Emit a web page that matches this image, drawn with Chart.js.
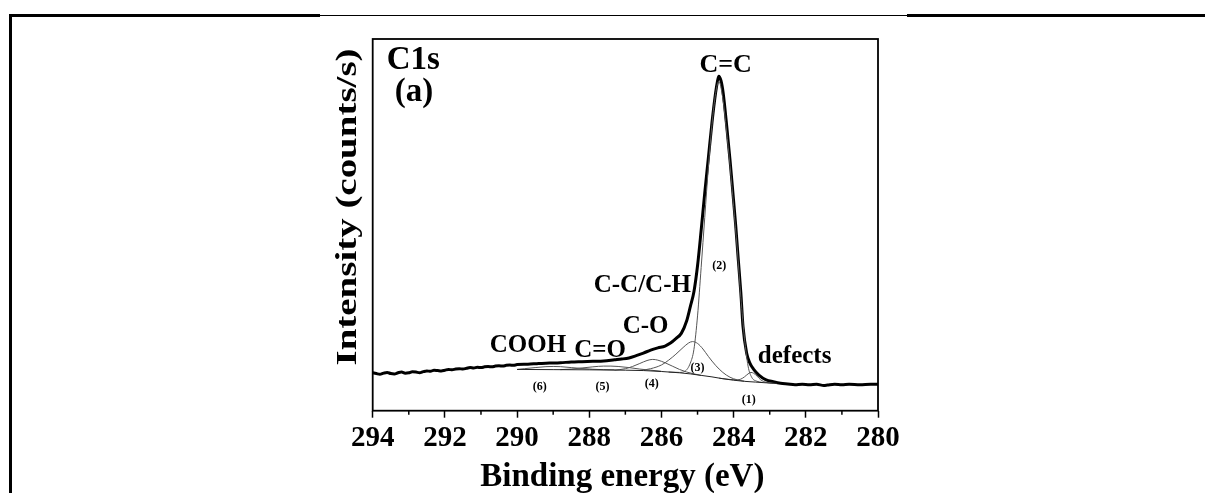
<!DOCTYPE html>
<html>
<head>
<meta charset="utf-8">
<script src="https://cdn.jsdelivr.net/npm/chart.js@4.4.1/dist/chart.umd.min.js"></script>
<style>
  html, body { margin: 0; padding: 0; background: #fff; }
  #wrap { position: relative; width: 1205px; height: 493px; overflow: hidden; }
  canvas { position: absolute; left: 0; top: 0; }
  .rule { position: absolute; background: #000; }
</style>
</head>
<body>
<div id="wrap">
  <canvas id="xps" width="1205" height="493"></canvas>
  <div class="rule" style="left:9px;top:14px;width:311px;height:3px"></div>
  <div class="rule" style="left:320px;top:15px;width:587px;height:1px"></div>
  <div class="rule" style="left:907px;top:14px;width:298px;height:3px"></div>
  <div class="rule" style="left:9px;top:14px;width:3px;height:479px"></div>
</div>
<script>
// C1s spectrum (measured envelope), binding energy in eV, intensity in arbitrary counts/s
const envEnergy = [294.0, 293.9, 293.8, 293.7, 293.6, 293.5, 293.4, 293.3, 293.2, 293.1,
  293.0, 292.9, 292.8, 292.7, 292.6, 292.5, 292.4, 292.3, 292.2, 292.1,
  292.0, 291.9, 291.8, 291.7, 291.6, 291.5, 291.4, 291.3, 291.2, 291.1,
  291.0, 290.9, 290.8, 290.7, 290.6, 290.5, 290.4, 290.3, 290.2, 290.1,
  290.0, 289.7, 289.4, 289.1, 288.8, 288.5, 288.2, 287.9, 287.6, 287.3,
  287.1, 286.9, 286.7, 286.5, 286.3, 286.1, 285.9, 285.75, 285.6, 285.45,
  285.3, 285.2, 285.1, 285.0, 284.9, 284.8, 284.7, 284.6, 284.5, 284.45,
  284.41, 284.35, 284.29, 284.19, 284.1, 284.02, 283.94, 283.87, 283.8, 283.74,
  283.64, 283.55, 283.45, 283.3, 283.1, 282.9, 282.7, 282.5, 282.3, 282.1,
  281.9, 281.7, 281.5, 281.4, 281.2, 281.0, 280.8, 280.5, 280.2, 280.0];
const envCounts = [10.2, 10.0, 9.8, 10.1, 10.3, 10.0, 9.9, 10.2, 10.4, 10.1,
  10.2, 10.5, 10.4, 10.2, 10.5, 10.7, 10.6, 10.9, 10.8, 10.7,
  10.9, 11.1, 11.0, 11.2, 11.3, 11.2, 11.4, 11.6, 11.5, 11.7,
  11.6, 11.8, 11.9, 11.8, 12.0, 12.1, 12.0, 12.2, 12.3, 12.2,
  12.4, 12.5, 12.7, 12.8, 12.9, 13.1, 13.2, 13.3, 13.4, 13.7,
  13.9, 14.2, 14.8, 15.5, 16.3, 16.9, 17.4, 18.2, 19.4, 20.8,
  24.2, 28.0, 32.0, 39.0, 48.5, 58.6, 68.0, 77.5, 85.5, 88.5,
  90.0, 88.8, 85.5, 76.4, 67.4, 58.6, 49.5, 40.5, 31.7, 22.6,
  15.5, 12.8, 11.2, 9.6, 8.3, 7.8, 7.4, 7.2, 7.0, 7.1,
  7.0, 7.1, 6.8, 6.9, 7.1, 7.0, 7.1, 7.0, 7.1, 7.1];

// background
const bgEnergy = [290.0, 289.0, 288.0, 287.0, 286.5, 286.0, 285.5, 285.2, 284.9, 284.6, 284.3, 284.0, 283.7, 283.4, 283.1, 282.8];
const bgCounts = [11.1, 11.05, 11.0, 10.9, 10.8, 10.55, 10.2, 9.9, 9.5, 9.1, 8.6, 8.2, 7.9, 7.7, 7.5, 7.35];

// fitted components (1)..(6)
const p1Energy = [284.4, 284.1, 283.9, 283.8, 283.7, 283.6, 283.52, 283.45, 283.35, 283.25, 283.1, 282.9];
const p1Counts = [8.75, 8.4, 8.3, 8.5, 9.1, 9.9, 10.3, 10.1, 9.3, 8.3, 7.6, 7.4];
const p2Energy = [285.8, 285.5, 285.35, 285.2, 285.1, 285.0, 284.9, 284.8, 284.7, 284.6, 284.5, 284.41,
  284.3, 284.2, 284.1, 284.0, 283.9, 283.8, 283.7, 283.6, 283.5, 283.35, 283.2];
const p2Counts = [10.4, 10.3, 10.6, 12.8, 16.5, 25.5, 38.5, 52.0, 65.5, 77.0, 85.3, 88.6,
  84.0, 75.5, 66.0, 55.0, 43.5, 30.5, 19.5, 12.0, 9.0, 7.9, 7.6];
const p3Energy = [286.6, 286.3, 286.0, 285.8, 285.6, 285.4, 285.25, 285.14, 285.0, 284.85, 284.7, 284.5, 284.3, 284.1, 283.9, 283.7];
const p3Counts = [10.8, 11.3, 12.3, 13.6, 15.2, 17.0, 18.2, 18.6, 18.1, 16.6, 14.6, 12.2, 10.3, 9.0, 8.3, 7.95];
const p4Energy = [287.3, 287.0, 286.8, 286.6, 286.4, 286.24, 286.1, 285.9, 285.7, 285.5, 285.3, 285.1, 284.9];
const p4Counts = [10.9, 11.3, 11.9, 12.7, 13.5, 13.8, 13.6, 12.9, 12.0, 11.1, 10.4, 9.9, 9.5];
const p5Energy = [288.8, 288.5, 288.2, 287.9, 287.6, 287.4, 287.2, 286.9, 286.6, 286.3, 286.0];
const p5Counts = [11.05, 11.2, 11.5, 11.8, 12.0, 12.0, 11.9, 11.6, 11.2, 10.9, 10.6];
const p6Energy = [290.0, 289.8, 289.5, 289.2, 289.0, 288.8, 288.5, 288.2, 287.9, 287.6, 287.3];
const p6Counts = [11.1, 11.3, 11.6, 11.85, 11.9, 11.85, 11.6, 11.35, 11.15, 11.05, 11.0];

const xTicks = [294, 292, 290, 288, 286, 284, 282, 280];

// text placed at (energy, intensity)
const notes = [
  { t: 'C1s', e: 293.61, v: 91.9, size: 33, align: 'left' },
  { t: '(a)', e: 293.39, v: 83.3, size: 33, align: 'left' },
  { t: 'C=C', e: 284.22, v: 91.1, size: 26, align: 'center' },
  { t: 'C-C/C-H', e: 286.53, v: 31.9, size: 25, align: 'center' },
  { t: 'C-O', e: 286.44, v: 20.9, size: 25, align: 'center' },
  { t: 'COOH', e: 289.70, v: 15.8, size: 25, align: 'center' },
  { t: 'C=O', e: 287.70, v: 14.4, size: 25, align: 'center' },
  { t: 'defects', e: 282.31, v: 12.8, size: 25, align: 'center' },
  { t: '(1)', e: 283.58, v: 3.0, size: 12, align: 'center' },
  { t: '(2)', e: 284.40, v: 38.9, size: 12, align: 'center' },
  { t: '(3)', e: 285.00, v: 11.6, size: 12, align: 'center' },
  { t: '(4)', e: 286.27, v: 7.1, size: 12, align: 'center' },
  { t: '(5)', e: 287.63, v: 6.5, size: 12, align: 'center' },
  { t: '(6)', e: 289.37, v: 6.5, size: 12, align: 'center' }
];

const serif = '"Liberation Serif", "Times New Roman", serif';

function pts(xs, ys) {
  return xs.map((x, i) => ({ x: x, y: ys[i] }));
}

function thin(xs, ys, color) {
  return {
    data: pts(xs, ys), borderColor: color, borderWidth: 1, pointRadius: 0,
    cubicInterpolationMode: 'monotone', fill: false
  };
}

const decor = {
  id: 'decor',
  afterDraw(chart) {
    const { ctx, chartArea: a, scales: { x, y } } = chart;
    ctx.save();
    // frame
    ctx.strokeStyle = '#000';
    ctx.lineWidth = 1.8;
    ctx.strokeRect(a.left, a.top, a.right - a.left, a.bottom - a.top);
    // minor ticks
    ctx.lineWidth = 1.5;
    for (let e = 281; e < 294; e += 2) {
      const px = x.getPixelForValue(e);
      ctx.beginPath();
      ctx.moveTo(px, a.bottom);
      ctx.lineTo(px, a.bottom + 4);
      ctx.stroke();
    }
    // annotations
    ctx.fillStyle = '#000';
    notes.forEach(n => {
      ctx.font = 'bold ' + n.size + 'px ' + serif;
      ctx.textAlign = n.align;
      ctx.textBaseline = n.size < 20 ? 'middle' : 'alphabetic';
      ctx.fillText(n.t, x.getPixelForValue(n.e), y.getPixelForValue(n.v));
    });
    // axis titles
    ctx.font = 'bold 33px ' + serif;
    ctx.textAlign = 'center';
    ctx.textBaseline = 'alphabetic';
    ctx.fillText('Binding energy (eV)', (a.left + a.right) / 2 - 3, a.bottom + 75.5);

    ctx.font = 'bold 29px ' + serif;
    const yt = 'Intensity (counts/s)';
    const w = ctx.measureText(yt).width;
    ctx.translate(356, 207);
    ctx.rotate(-Math.PI / 2);
    ctx.scale(317 / w, 1);
    ctx.fillText(yt, 0, 0);
    ctx.restore();
  }
};

new Chart(document.getElementById('xps').getContext('2d'), {
  type: 'line',
  data: {
    datasets: [
      thin(bgEnergy, bgCounts, '#222'),
      thin(p6Energy, p6Counts, '#555'),
      thin(p5Energy, p5Counts, '#555'),
      thin(p4Energy, p4Counts, '#555'),
      thin(p3Energy, p3Counts, '#555'),
      thin(p1Energy, p1Counts, '#555'),
      thin(p2Energy, p2Counts, '#555'),
      {
        data: pts(envEnergy, envCounts), borderColor: '#000', borderWidth: 3,
        pointRadius: 0, cubicInterpolationMode: 'monotone', fill: false
      }
    ]
  },
  options: {
    responsive: false,
    animation: false,
    layout: { padding: { top: 39, right: 327, left: 0, bottom: 0 } },
    plugins: { legend: { display: false }, tooltip: { enabled: false } },
    scales: {
      x: {
        type: 'linear', reverse: true, min: 280, max: 294,
        afterFit: s => { s.height = 82.3; },
        afterBuildTicks: s => { s.ticks = xTicks.map(v => ({ value: v })); },
        grid: { display: true, drawOnChartArea: false, drawTicks: true, tickLength: 7, tickWidth: 1.5, tickColor: '#000' },
        border: { display: false },
        ticks: {
          color: '#000', padding: 3, maxRotation: 0, autoSkip: false,
          font: { family: serif, size: 29, weight: 'bold' }
        }
      },
      y: {
        min: 0, max: 100,
        afterFit: s => { s.width = 372.7; },
        grid: { display: false },
        border: { display: false },
        ticks: { display: false }
      }
    }
  },
  plugins: [decor]
});
</script>
</body>
</html>
